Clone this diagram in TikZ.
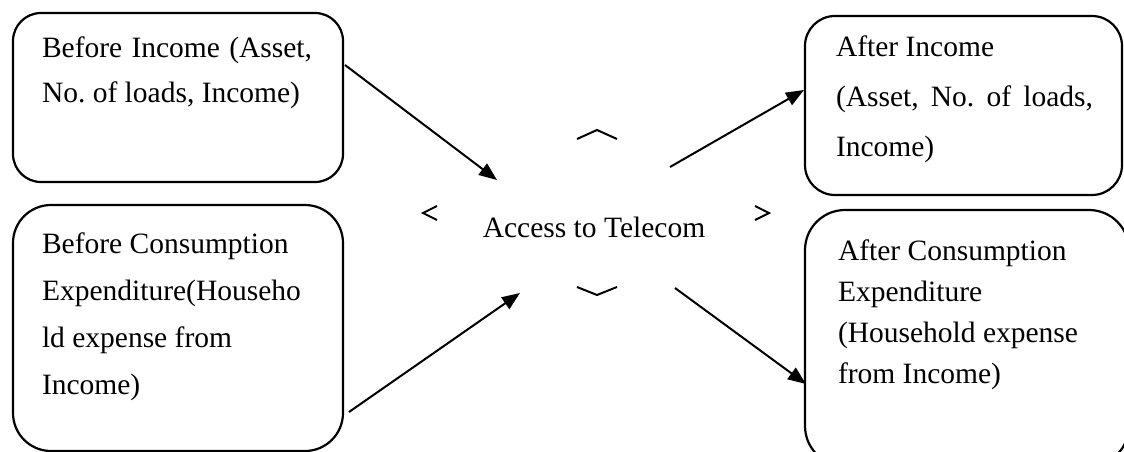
\documentclass[tikz,border=0pt]{standalone}
\usepackage{fontspec}
\setmainfont{Liberation Serif}
\usetikzlibrary{arrows.meta}
\frenchspacing
\begin{document}
\begin{tikzpicture}[x=1pt,y=-1pt,
  panel/.style={draw, line width=2.2pt, inner sep=0pt},
  txt/.style={inner sep=0pt, outer sep=0pt, anchor=base west},
  conn/.style={line width=2pt, -{Triangle[length=18pt,width=14pt]}},
  chev/.style={line width=2pt, line join=miter}]
\useasboundingbox (0,0) rectangle (1124,452);

% rounded panels
\node[panel, rounded corners=28pt, minimum width=330pt, minimum height=169pt] (b1) at (178,97.5) {};
\node[panel, rounded corners=38pt, minimum width=330pt, minimum height=246pt] (b2) at (178,328) {};
\node[panel, rounded corners=30pt, minimum width=317pt, minimum height=179pt] (b3) at (963.5,105.5) {};
\node[panel, rounded corners=40pt, minimum width=324pt, minimum height=256pt] (b4) at (967,338) {};

% panel texts
\node[txt] (t1) at (42,58) {\parbox[t]{300pt}{\fontsize{29.5}{44}\selectfont
  \makebox[270pt][s]{Before Income (Asset,}\\
  No. of loads, Income)\par}};
\node[txt] (t2) at (42,253) {\parbox[t]{300pt}{\fontsize{29.5}{47}\selectfont
  Before Consumption\\
  Expenditure(Househo\\
  ld expense from\\
  Income)\par}};
\node[txt] (t3) at (836,57) {\parbox[t]{280pt}{\fontsize{29.5}{50}\selectfont
  After Income\\
  \makebox[257pt][s]{(Asset, No. of loads,}\\
  Income)\par}};
\node[txt] (t4) at (838,260) {\parbox[t]{280pt}{\fontsize{29.5}{41}\selectfont
  After Consumption\\
  Expenditure\\
  (Household expense\\
  from Income)\par}};

% central label
\node[inner sep=0pt, anchor=base] (acc) at (594,237) {\fontsize{29.5}{35}\selectfont Access to Telecom};

% outline fragments around the central label
\draw[chev] (577,139) -- (597,130) -- (617,139);
\draw[chev] (577,287) -- (597,295) -- (617,287);
\draw[chev] (437,206) -- (423,213) -- (437,220);
\draw[chev] (755,206) -- (769,213) -- (755,220);

% connector end points
\coordinate (s1) at (345,65);
\coordinate (e1) at (497,180);
\coordinate (s2) at (349,412);
\coordinate (e2) at (520,293);
\coordinate (s3) at (670,167);
\coordinate (e3) at (804,90);
\coordinate (s4) at (675,288);
\coordinate (e4) at (806,384);

\draw[conn] (s1) -- (e1);
\draw[conn] (s2) -- (e2);
\draw[conn] (s3) -- (e3);
\draw[conn] (s4) -- (e4);
\end{tikzpicture}
\end{document}
